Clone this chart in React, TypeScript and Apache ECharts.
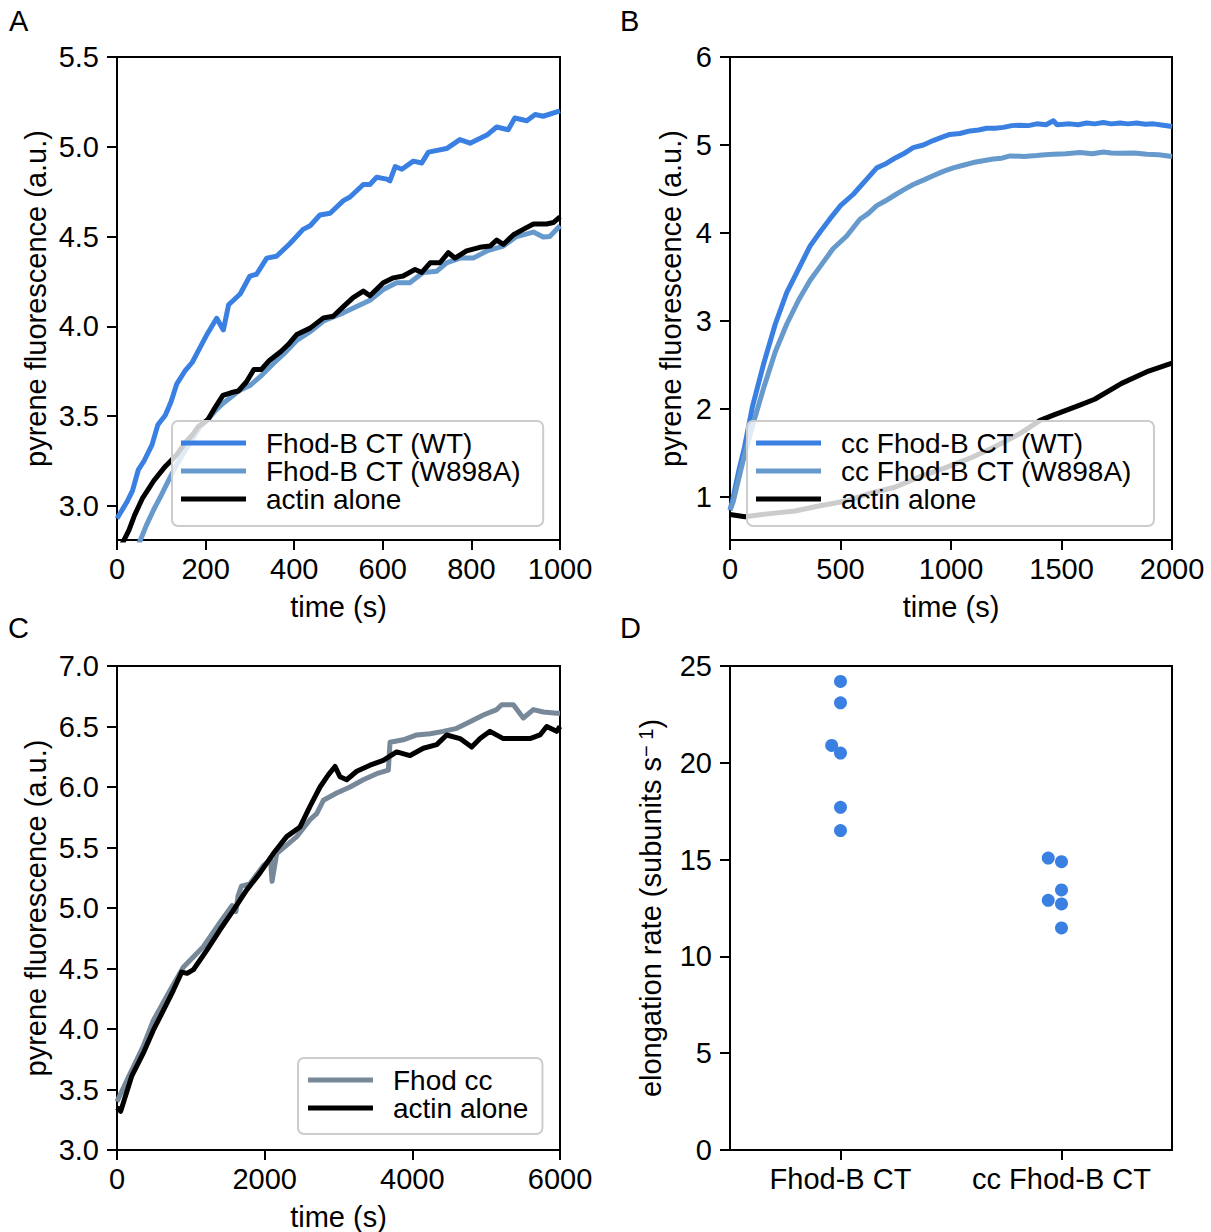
import React, { useEffect, useRef } from "react";
import * as echarts from "echarts";

const FONT = '"Liberation Sans", Arial, Helvetica, sans-serif';
const FS = 29;
const LEG_FS = 28;

const BLUE = "#3a80e2";
const LIGHTBLUE = "#6699cc";
const SLATE = "#778899";
const BLACK = "#000000";

// ---------- Panel A ----------
const aTimeWT = [0, 22, 35, 48, 61, 79, 92, 109, 122, 135, 153, 170, 187, 202, 225, 240, 252, 278, 300, 315, 338, 360, 390, 420, 436, 458, 481, 511, 526, 556, 571, 586, 609, 616, 628, 643, 669, 688, 703, 744, 774, 797, 835, 857, 883, 898, 925, 944, 962, 1000];
const aValWT = [2.93, 3.02, 3.085, 3.2, 3.25, 3.34, 3.45, 3.505, 3.58, 3.68, 3.75, 3.8, 3.88, 3.95, 4.045, 3.98, 4.12, 4.18, 4.28, 4.29, 4.38, 4.39, 4.46, 4.54, 4.56, 4.62, 4.63, 4.7, 4.72, 4.79, 4.79, 4.83, 4.82, 4.81, 4.89, 4.875, 4.92, 4.91, 4.97, 4.99, 5.04, 5.02, 5.065, 5.11, 5.095, 5.16, 5.145, 5.18, 5.17, 5.2];

const aTimeMut = [48, 66, 83, 100, 118, 135, 153, 170, 187, 205, 222, 239, 257, 274, 300, 326, 352, 378, 405, 436, 466, 511, 541, 571, 601, 631, 661, 691, 722, 744, 774, 804, 835, 872, 902, 940, 962, 977, 1000];
const aValMut = [2.78, 2.89, 2.98, 3.06, 3.15, 3.23, 3.306, 3.37, 3.44, 3.48, 3.53, 3.57, 3.605, 3.64, 3.67, 3.726, 3.79, 3.85, 3.92, 3.97, 4.03, 4.075, 4.11, 4.145, 4.205, 4.243, 4.243, 4.3, 4.307, 4.354, 4.38, 4.38, 4.42, 4.447, 4.5, 4.525, 4.497, 4.5, 4.56];

const aTimeActin = [10, 27, 40, 57, 83, 109, 135, 153, 170, 183, 205, 222, 239, 257, 274, 292, 309, 326, 344, 370, 387, 406, 436, 466, 488, 511, 533, 556, 571, 601, 624, 646, 673, 688, 707, 729, 748, 763, 789, 819, 842, 857, 872, 895, 917, 940, 970, 985, 1000];
const aValActin = [2.78, 2.865, 2.95, 3.04, 3.14, 3.22, 3.285, 3.35, 3.395, 3.44, 3.48, 3.55, 3.615, 3.63, 3.64, 3.69, 3.76, 3.76, 3.81, 3.86, 3.9, 3.955, 3.99, 4.047, 4.056, 4.11, 4.16, 4.196, 4.17, 4.243, 4.27, 4.28, 4.317, 4.3, 4.354, 4.354, 4.41, 4.38, 4.42, 4.44, 4.447, 4.48, 4.456, 4.51, 4.54, 4.57, 4.57, 4.578, 4.61];

// ---------- Panel B ----------
const bTimeWT = [0, 14, 40, 66, 101, 153, 205, 257, 310, 362, 410, 452, 500, 558, 618, 664, 700, 739, 785, 829, 875, 919, 960, 995, 1040, 1086, 1125, 1161, 1200, 1237, 1275, 1312, 1350, 1388, 1430, 1463, 1480, 1538, 1575, 1614, 1650, 1689, 1725, 1765, 1800, 1840, 1880, 1916, 1960, 2000];
const bValWT = [0.85, 0.99, 1.3, 1.57, 2.02, 2.52, 2.965, 3.325, 3.59, 3.85, 4.02, 4.16, 4.31, 4.44, 4.61, 4.74, 4.78, 4.84, 4.9, 4.97, 5.0, 5.05, 5.09, 5.12, 5.13, 5.16, 5.17, 5.19, 5.19, 5.2, 5.22, 5.225, 5.22, 5.24, 5.23, 5.275, 5.23, 5.24, 5.23, 5.25, 5.24, 5.256, 5.24, 5.25, 5.24, 5.25, 5.235, 5.24, 5.225, 5.21];

const bTimeMut = [0, 14, 57, 101, 153, 205, 257, 310, 362, 414, 466, 528, 588, 625, 664, 700, 739, 785, 829, 875, 919, 965, 1010, 1055, 1100, 1145, 1191, 1230, 1267, 1330, 1388, 1425, 1463, 1520, 1584, 1640, 1689, 1725, 1765, 1830, 1886, 1940, 2000];
const bValMut = [0.85, 0.94, 1.39, 1.8, 2.245, 2.65, 2.965, 3.235, 3.46, 3.64, 3.82, 3.965, 4.155, 4.22, 4.31, 4.36, 4.42, 4.49, 4.55, 4.6, 4.65, 4.7, 4.74, 4.77, 4.8, 4.82, 4.84, 4.85, 4.876, 4.87, 4.88, 4.89, 4.895, 4.9, 4.915, 4.9, 4.92, 4.91, 4.905, 4.91, 4.895, 4.89, 4.87];

const bTimeActin = [0, 68, 181, 294, 407, 520, 633, 746, 860, 973, 1086, 1199, 1312, 1403, 1463, 1511, 1580, 1650, 1772, 1894, 2000];
const bValActin = [0.8, 0.775, 0.81, 0.84, 0.9, 0.95, 1.04, 1.11, 1.23, 1.33, 1.44, 1.57, 1.72, 1.87, 1.93, 1.975, 2.04, 2.11, 2.29, 2.43, 2.52];

// ---------- Panel C ----------
const cTimeCC = [0, 176, 350, 492, 700, 898, 1169, 1395, 1560, 1610, 1640, 1685, 1800, 1982, 2080, 2100, 2163, 2434, 2614, 2705, 2795, 2976, 3156, 3336, 3517, 3675, 3698, 3878, 4059, 4240, 4420, 4601, 4781, 4962, 5143, 5210, 5368, 5503, 5639, 5774, 5955, 6000];
const cValCC = [3.4, 3.63, 3.85, 4.07, 4.3, 4.51, 4.68, 4.88, 5.02, 4.97, 5.1, 5.18, 5.2, 5.35, 5.4, 5.22, 5.45, 5.59, 5.73, 5.78, 5.89, 5.95, 6.0, 6.06, 6.11, 6.14, 6.37, 6.39, 6.43, 6.44, 6.46, 6.485, 6.54, 6.595, 6.64, 6.68, 6.68, 6.57, 6.64, 6.62, 6.61, 6.61];

const cTimeActin = [0, 50, 199, 356, 492, 650, 763, 876, 950, 1034, 1215, 1395, 1575, 1757, 1937, 2117, 2298, 2479, 2614, 2750, 2862, 2953, 3020, 3111, 3247, 3427, 3607, 3788, 3969, 4149, 4330, 4465, 4646, 4804, 4917, 5052, 5232, 5413, 5594, 5729, 5820, 5955, 6000];
const cValActin = [3.35, 3.32, 3.61, 3.8, 3.99, 4.18, 4.32, 4.47, 4.46, 4.49, 4.65, 4.82, 4.98, 5.15, 5.29, 5.45, 5.59, 5.67, 5.84, 6.0, 6.1, 6.17, 6.085, 6.06, 6.13, 6.18, 6.22, 6.29, 6.26, 6.32, 6.35, 6.43, 6.4, 6.33, 6.4, 6.46, 6.4, 6.4, 6.4, 6.43, 6.5, 6.46, 6.5];

// ---------- Panel D ----------
const dCategories = ["Fhod-B CT", "cc Fhod-B CT"];
const dGroup = [0, 0, 0, 0, 0, 0, 1, 1, 1, 1, 1, 1];
const dSwarmOffset = [0, 0, -0.04, 0, 0, 0, -0.06, 0, 0, -0.06, 0, 0];
const dRates = [24.2, 23.1, 20.9, 20.5, 17.7, 16.5, 15.08, 14.89, 13.43, 12.9, 12.71, 11.47];

// tick labels
const aYTicks = [3.0, 3.5, 4.0, 4.5, 5.0, 5.5];
const bYTicks = [1, 2, 3, 4, 5, 6];

const pairs = (t: number[], v: number[]) => t.map((x, i) => [x, v[i]]);

const axisCommon = {
  axisLine: { show: true, onZero: false, lineStyle: { color: BLACK, width: 2 } },
  axisTick: { show: true, inside: false, length: 10, lineStyle: { color: BLACK, width: 2 } },
  splitLine: { show: false },
  nameTextStyle: { fontSize: FS, fontFamily: FONT, color: BLACK },
};
const plain = (v: number) => String(v);
const xLabel = { color: BLACK, fontSize: FS, fontFamily: FONT, margin: 14, formatter: plain };
const yLabel = { color: BLACK, fontSize: FS, fontFamily: FONT, margin: 18 };

const gridStyle = { show: true, borderColor: BLACK, borderWidth: 2, backgroundColor: "transparent" };

const lineSeries = (name: string, data: number[][], color: string, idx: number) => ({
  type: "line",
  name,
  data,
  xAxisIndex: idx,
  yAxisIndex: idx,
  showSymbol: false,
  symbol: "none",
  clip: true,
  itemStyle: { color },
  lineStyle: { color, width: 5, join: "round" },
});

const legendCommon = {
  orient: "vertical",
  icon: "rect",
  itemWidth: 65,
  itemHeight: 5,
  itemGap: 0,
  selectedMode: false,
  backgroundColor: "rgba(255,255,255,0.8)",
  borderColor: "#cccccc",
  borderWidth: 2,
  borderRadius: 6,
  textStyle: { fontSize: LEG_FS, fontFamily: FONT, color: BLACK, lineHeight: 27.5, padding: [0, 0, 0, 15] },
};

const panelTitle = (text: string, left: number, top: number) => ({
  text,
  left,
  top,
  padding: 0,
  textStyle: { fontSize: FS, fontFamily: FONT, fontWeight: "normal", color: BLACK },
});

export default function App() {
  const ref = useRef<HTMLDivElement>(null);
  useEffect(() => {
    const chart = echarts.init(ref.current!, null, { renderer: "svg" });
    const option: any = {
      animation: false,
      backgroundColor: "#ffffff",
      textStyle: { fontFamily: FONT },
      title: [
        panelTitle("A", 9, 6),
        panelTitle("B", 620, 6),
        panelTitle("C", 8, 613),
        panelTitle("D", 620, 613),
      ],
      grid: [
        { left: 117, top: 57, width: 443, height: 483, ...gridStyle },
        { left: 730, top: 57, width: 442, height: 483, ...gridStyle },
        { left: 117, top: 666, width: 443, height: 484, ...gridStyle },
        { left: 730, top: 666, width: 442, height: 484, ...gridStyle },
      ],
      xAxis: [
        { ...axisCommon, type: "value", gridIndex: 0, min: 0, max: 1000, interval: 200, axisLabel: xLabel, name: "time (s)", nameLocation: "middle", nameGap: 52 },
        { ...axisCommon, type: "value", gridIndex: 1, min: 0, max: 2000, interval: 500, axisLabel: xLabel, name: "time (s)", nameLocation: "middle", nameGap: 52 },
        { ...axisCommon, type: "value", gridIndex: 2, min: 0, max: 6000, interval: 2000, axisLabel: xLabel, name: "time (s)", nameLocation: "middle", nameGap: 52 },
        {
          ...axisCommon, type: "category", gridIndex: 3, data: dCategories, boundaryGap: true,
          axisTick: { ...axisCommon.axisTick, alignWithLabel: true, interval: 0 },
          axisLabel: { color: BLACK, fontSize: FS, fontFamily: FONT, margin: 14, interval: 0, hideOverlap: false },
        },
        { type: "value", gridIndex: 3, min: -0.5, max: 1.5, show: false },
      ],
      yAxis: [
        {
          ...axisCommon, type: "value", gridIndex: 0, min: 2.81, max: 5.5,
          axisLabel: { ...yLabel, customValues: aYTicks, formatter: (v: number) => v.toFixed(1) },
          axisTick: { ...axisCommon.axisTick, customValues: aYTicks },
          name: "pyrene fluorescence (a.u.)", nameLocation: "middle", nameGap: 67,
        },
        {
          ...axisCommon, type: "value", gridIndex: 1, min: 0.51, max: 6,
          axisLabel: { ...yLabel, customValues: bYTicks, formatter: (v: number) => String(Math.round(v)) },
          axisTick: { ...axisCommon.axisTick, customValues: bYTicks },
          name: "pyrene fluorescence (a.u.)", nameLocation: "middle", nameGap: 45,
        },
        {
          ...axisCommon, type: "value", gridIndex: 2, min: 3, max: 7, interval: 0.5,
          axisLabel: { ...yLabel, formatter: (v: number) => v.toFixed(1) },
          name: "pyrene fluorescence (a.u.)", nameLocation: "middle", nameGap: 67,
        },
        {
          ...axisCommon, type: "value", gridIndex: 3, min: 0, max: 25, interval: 5,
          axisLabel: yLabel,
          name: "elongation rate (subunits s{sup|− 1})", nameLocation: "middle", nameGap: 65,
          nameTextStyle: {
            fontSize: FS, fontFamily: FONT, color: BLACK,
            rich: { sup: { fontSize: 20, fontFamily: FONT, color: BLACK, verticalAlign: "top", lineHeight: 20 } },
          },
        },
      ],
      legend: [
        { ...legendCommon, left: 172, top: 421, padding: [8, 22, 13, 9], data: ["Fhod-B CT (WT)", "Fhod-B CT (W898A)", "actin alone"] },
        { ...legendCommon, left: 747, top: 421, padding: [8, 22, 13, 9], data: ["cc Fhod-B CT (WT)", "cc Fhod-B CT (W898A)", "actin alone"] },
        { ...legendCommon, left: 298, top: 1058, padding: [8, 14, 12, 10], data: ["Fhod cc", "actin alone"] },
      ],
      series: [
        lineSeries("Fhod-B CT (WT)", pairs(aTimeWT, aValWT), BLUE, 0),
        lineSeries("Fhod-B CT (W898A)", pairs(aTimeMut, aValMut), LIGHTBLUE, 0),
        lineSeries("actin alone", pairs(aTimeActin, aValActin), BLACK, 0),
        lineSeries("cc Fhod-B CT (WT)", pairs(bTimeWT, bValWT), BLUE, 1),
        lineSeries("cc Fhod-B CT (W898A)", pairs(bTimeMut, bValMut), LIGHTBLUE, 1),
        lineSeries("actin alone", pairs(bTimeActin, bValActin), BLACK, 1),
        lineSeries("Fhod cc", pairs(cTimeCC, cValCC), SLATE, 2),
        lineSeries("actin alone", pairs(cTimeActin, cValActin), BLACK, 2),
        {
          type: "scatter",
          name: "elongation",
          xAxisIndex: 4,
          yAxisIndex: 3,
          symbolSize: 13,
          itemStyle: { color: BLUE, opacity: 1 },
          data: dRates.map((r, i) => [dGroup[i] + dSwarmOffset[i], r]),
        },
      ],
    };
    chart.setOption(option);
    return () => chart.dispose();
  }, []);
  return <div ref={ref} style={{ position: "absolute", left: 0, top: 0, width: 1211, height: 1232 }} />;
}
